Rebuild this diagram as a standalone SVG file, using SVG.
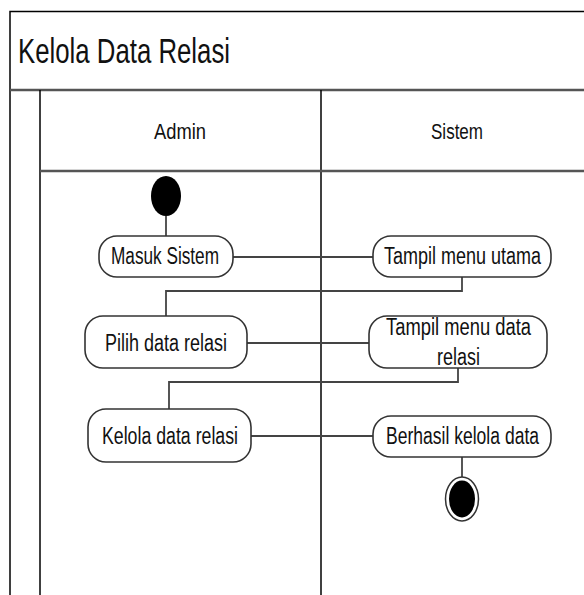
<svg xmlns="http://www.w3.org/2000/svg" width="584" height="595" viewBox="0 0 584 595">
<style>
.frame{fill:none;stroke:#000;stroke-width:1.5}
.hdr{fill:none;stroke:#555;stroke-width:2.5}
.act{fill:#fff;stroke:#333;stroke-width:1.6}
.conn{fill:none;stroke:#444;stroke-width:1.8}
.t{font-family:"Liberation Sans",Arial,sans-serif;fill:#111;text-anchor:start}
.n{font-size:23px}
</style>
<rect x="0" y="0" width="584" height="595" fill="#fff"/>
<g id="frame">
<path class="frame" d="M10,595 V11.5 H590"/>
<path class="hdr" d="M10,90 H590"/>
<path class="frame" d="M40,595 V90"/>
<path class="frame" d="M321,595 V90"/>
<path class="hdr" d="M40,171 H590"/>
<text class="t" x="18" y="63" font-size="35" textLength="212" lengthAdjust="spacingAndGlyphs">Kelola Data Relasi</text>
<text class="t" x="154" y="139" font-size="22" textLength="52" lengthAdjust="spacingAndGlyphs">Admin</text>
<text class="t" x="431" y="139" font-size="22" textLength="52" lengthAdjust="spacingAndGlyphs">Sistem</text>
</g>
<g id="connectors">
<path class="conn" d="M166,216 V236"/>
<path class="conn" d="M233,257 H373"/>
<path class="conn" d="M462,277 V291 H166 V316"/>
<path class="conn" d="M247,343 H369"/>
<path class="conn" d="M458,368 V382 H169 V409"/>
<path class="conn" d="M251,436 H373"/>
<path class="conn" d="M462,457 V477"/>
</g>
<g id="start"><ellipse cx="166" cy="196" rx="15" ry="20" fill="#000"/></g>
<g id="masuk">
<rect class="act" x="99" y="236" width="134" height="41" rx="18"/>
<text class="t n" x="111" y="264" textLength="108" lengthAdjust="spacingAndGlyphs">Masuk Sistem</text>
</g>
<g id="tampil-utama">
<rect class="act" x="373" y="236" width="178" height="41" rx="18"/>
<text class="t n" x="384" y="264" textLength="157" lengthAdjust="spacingAndGlyphs">Tampil menu utama</text>
</g>
<g id="pilih">
<rect class="act" x="85" y="316" width="162" height="52" rx="18"/>
<text class="t n" x="105" y="351" textLength="122" lengthAdjust="spacingAndGlyphs">Pilih data relasi</text>
</g>
<g id="tampil-data">
<rect class="act" x="369" y="316" width="178" height="52" rx="18"/>
<text class="t n" x="386" y="335" textLength="145" lengthAdjust="spacingAndGlyphs">Tampil menu data</text>
<text class="t n" x="437" y="365" textLength="43" lengthAdjust="spacingAndGlyphs">relasi</text>
</g>
<g id="kelola">
<rect class="act" x="88" y="409" width="163" height="53" rx="18"/>
<text class="t n" x="102" y="444" textLength="136" lengthAdjust="spacingAndGlyphs">Kelola data relasi</text>
</g>
<g id="berhasil">
<rect class="act" x="373" y="416" width="178" height="41" rx="18"/>
<text class="t n" x="386" y="444" textLength="153" lengthAdjust="spacingAndGlyphs">Berhasil kelola data</text>
</g>
<g id="end">
<ellipse cx="462" cy="499" rx="16.5" ry="22" fill="#fff" stroke="#333" stroke-width="1.5"/>
<ellipse cx="462" cy="499" rx="13" ry="18.5" fill="#000"/>
</g>
</svg>
